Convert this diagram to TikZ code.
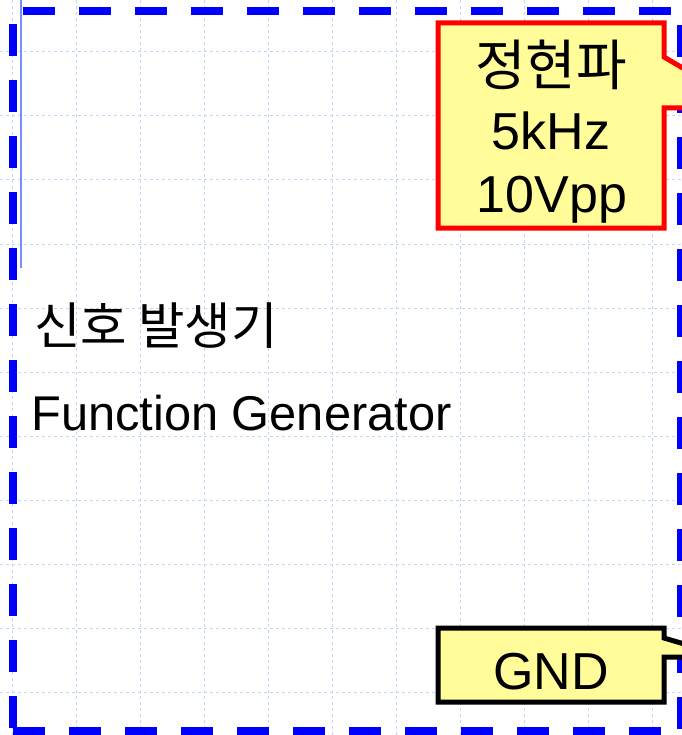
\documentclass[tikz,border=0pt]{standalone}
\usepackage{fontspec}
\setmainfont{Liberation Sans}
\newfontfamily\kr{Noto Sans CJK KR}
\definecolor{gridblue}{RGB}{196,212,245}
\definecolor{calloutyellow}{RGB}{255,252,153}
\definecolor{thinblue}{RGB}{120,142,255}
\pgfdeclarelayer{bg}
\pgfdeclarelayer{mid}
\pgfsetlayers{bg,mid,main}
\begin{document}
\begin{tikzpicture}[x=1pt,y=-1pt,
  gridline/.style={draw=gridblue, line width=1pt, dash pattern=on 3pt off 3pt},
  bdash/.style={draw=blue, line width=8pt, dash pattern=on 32pt off 24pt},
  callbox/.style={rectangle, inner sep=0pt, outer sep=0pt, minimum width=226pt},
  redcall/.style={draw=red, line width=5pt, fill=calloutyellow, line join=miter},
  blackcall/.style={draw=black, line width=5pt, fill=calloutyellow, line join=miter},
  bigtxt/.style={inner sep=0pt, anchor=base, font=\fontsize{52}{62}\selectfont},
  lbltxt/.style={inner sep=0pt, anchor=base west, font=\fontsize{48.8}{58}\selectfont}]
\useasboundingbox (0,0) rectangle (681,735);
\begin{pgfonlayer}{bg}
  \fill[white] (0,0) rectangle (681,735);
  \foreach \x in {12,76,...,652} \draw[gridline] (\x,0) -- (\x,735);
  \foreach \y in {52,116,...,692} \draw[gridline] (0,\y) -- (681,\y);
  \draw[bdash, dash phase=45.7pt] (13,11) -- (681,11);
  \draw[bdash, dash phase=43pt] (13,11) -- (13,731);
  \draw[bdash, dash phase=42pt] (681,11) -- (681,731);
  \draw[bdash] (13,731) -- (681,731);
  \draw[thinblue, line width=2pt] (20.8,0) -- (20.8,268);
\end{pgfonlayer}

% labels
\node[lbltxt, font=\fontsize{50.5}{58}\selectfont] (lblkr) at (34,344) {\kr 신호 발생기};
\node[lbltxt] (lblen) at (31,430) {Function Generator};

% sine callout
\node[callbox, minimum height=205pt] (sig) at (551,125.5) {};
\coordinate (sigp1) at (664,57);
\coordinate (sigtip) at (750.7,108);
\coordinate (sigp2) at (664,108);
\node[bigtxt, font=\fontsize{55}{62}\selectfont] (sigl1) at (551,86) {\kr 정현파};
\node[bigtxt] (sigl2) at (551,150) {5kHz};
\node[bigtxt] (sigl3) at (552,213) {10Vpp};

% GND callout
\node[callbox, minimum height=74pt] (gnd) at (551,665) {};
\coordinate (gndp1) at (664,638);
\coordinate (gndtip) at (728.6,657);
\coordinate (gndp2) at (664,657);
\node[bigtxt] (gndl) at (551,689) {GND};

\begin{pgfonlayer}{mid}
  \draw[redcall] (sig.north west) -- (sig.north east) -- (sigp1) -- (sigtip) -- (sigp2)
    -- (sig.south east) -- (sig.south west) -- cycle;
  \draw[blackcall] (gnd.north west) -- (gnd.north east) -- (gndp1) -- (gndtip) -- (gndp2)
    -- (gnd.south east) -- (gnd.south west) -- cycle;
\end{pgfonlayer}
\end{tikzpicture}
\end{document}
